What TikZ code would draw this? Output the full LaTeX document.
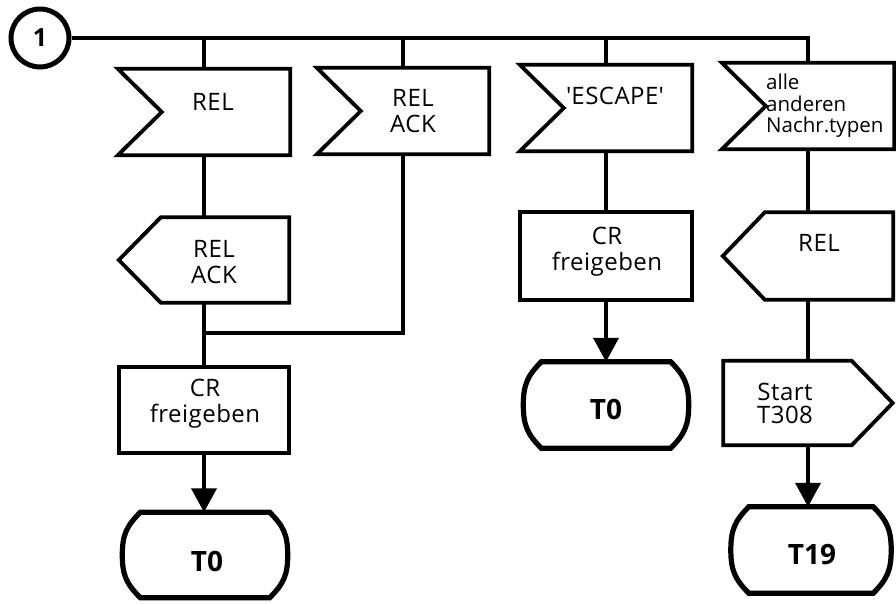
\documentclass[tikz,border=0pt]{standalone}
\usepackage{fontspec}
\setmainfont{Open Sans}
\newfontfamily\widefont[LetterSpace=2]{Open Sans}
\usetikzlibrary{arrows.meta,calc}
\newcommand\drawinput[1]{\draw[ln] (#1.north west) -- ($(#1.west)+(44,0)$) -- (#1.south west) -- (#1.south east) -- (#1.north east) -- cycle;}
\newcommand\drawoutput[1]{\draw[ln] (#1.west) -- ($(#1.north west)+(42,0)$) -- (#1.north east) -- (#1.south east) -- ($(#1.south west)+(42,0)$) -- cycle;}
\newcommand\drawstart[1]{\draw[ln] (#1.north west) -- ($(#1.north east)+(-41,0)$) -- (#1.east) -- ($(#1.south east)+(-41,0)$) -- (#1.south west) -- cycle;}
\newcommand\drawterm[1]{\draw[termline] ($(#1.north west)+(18,0)$) -- ($(#1.north east)+(-18,0)$)
   .. controls ($(#1.north east)+(-4,14)$) and ($(#1.east)+(0,-20)$) .. (#1.east)
   .. controls ($(#1.east)+(0,20)$) and ($(#1.south east)+(-4,-14)$) .. ($(#1.south east)+(-18,0)$)
   -- ($(#1.south west)+(18,0)$)
   .. controls ($(#1.south west)+(4,-14)$) and ($(#1.west)+(0,20)$) .. (#1.west)
   .. controls ($(#1.west)+(0,-20)$) and ($(#1.north west)+(4,14)$) .. cycle;}
\begin{document}
\begin{tikzpicture}[x=1pt,y=-1pt,line join=miter]
\tikzset{
  frame/.style={rectangle,inner sep=0,minimum width=172pt,minimum height=86pt},
  ln/.style={line width=3.8pt},
  termline/.style={line width=5.2pt},
  lbl/.style={font=\widefont\fontsize{24}{26}\selectfont,align=center,inner sep=0},
  tlbl/.style={font=\bfseries\fontsize{28}{28}\selectfont,inner sep=0},
  arr/.style={ln,-{Triangle[length=24pt,width=25pt]}}
}
\useasboundingbox (0,0) rectangle (896,603);
\fill[white] (0,0) rectangle (896,603);

% connector circle
\node[circle,draw,line width=5pt,minimum size=58pt,inner sep=0,font=\bfseries\fontsize{25}{25}\selectfont] (c1) at (40,38) {1};

% row 1: inputs
\node[frame] (in1) at (204,112) {};
\node[frame] (in2) at (403,111) {};
\node[frame] (in3) at (606,108) {};
\node[frame] (in4) at (808,106) {};
\drawinput{in1}\drawinput{in2}\drawinput{in3}\drawinput{in4}
\node[lbl] (in1t) at ($(in1)+(9,-10)$) {REL};
\node[lbl] (in2t) at ($(in2)+(10,0)$) {REL\\ACK};
\node[lbl] (in3t) at ($(in3)+(9,-12)$) {\textquotesingle ESCAPE\textquotesingle};
\node[font=\fontsize{20.5}{21.5}\selectfont,align=left,inner sep=0,anchor=west] (in4t) at (766,106) {alle\\anderen\\Nachr.typen};

% row 2
\node[frame,minimum width=170pt,minimum height=85pt] (out1) at (204,260) {};
\drawoutput{out1}
\node[lbl] (out1t) at ($(out1)+(10,2)$) {REL\\ACK};
\node[frame,minimum height=87pt] (cr3) at (606,256) {};
\draw[ln] (cr3.north west) rectangle (cr3.south east);
\node[lbl] (cr3t) at ($(cr3)+(1,-4)$) {CR\\freigeben};
\node[frame,minimum width=170pt,minimum height=87pt] (out4) at (808,256) {};
\drawoutput{out4}
\node[lbl] (out4t) at ($(out4)+(11,-13)$) {REL};

% row 3
\node[frame,minimum width=170pt,minimum height=85pt] (cr1) at (204,410) {};
\draw[ln] (cr1.north west) rectangle (cr1.south east);
\node[lbl] (cr1t) at ($(cr1)+(1,-6)$) {CR\\freigeben};
\node[frame,minimum width=165pt,minimum height=86pt] (t3) at (606,405) {};
\drawterm{t3}
\node[tlbl] (t3t) at ($(t3)+(0,4)$) {T0};
\node[frame,minimum width=169pt,minimum height=84pt] (st) at (808,403) {};
\drawstart{st}
\node[lbl,font=\widefont\fontsize{24}{23}\selectfont] (stt) at ($(st)+(-23,0)$) {Start\\T308};

% row 4
\node[frame,minimum width=165pt,minimum height=85pt] (t1) at (205,555) {};
\drawterm{t1}
\node[tlbl] (t1t) at ($(t1)+(2,6)$) {T0};
\node[frame,minimum width=160pt,minimum height=86pt] (t4) at (811,550) {};
\drawterm{t4}
\node[tlbl] (t4t) at ($(t4)+(1,5)$) {T19};

% connectors
\coordinate (tr) at (808,38);
\draw[ln] (c1.east) -- (tr) -- (in4.north);
\draw[ln] (in1.north |- c1.east) -- (in1.north);
\draw[ln] (in2.north |- c1.east) -- (in2.north);
\draw[ln] (in3.north |- c1.east) -- (in3.north);
\draw[ln] (in1.south) -- (out1.north);
\draw[ln] (out1.south) -- (cr1.north);
\coordinate (j1) at (204,333);
\draw[ln] (in2.south) |- (j1);
\draw[arr] (cr1.south) -- (t1.north -| cr1.south);
\draw[ln] (in3.south) -- (cr3.north);
\draw[arr] (cr3.south) -- (t3.north);
\draw[ln] (in4.south) -- (out4.north);
\draw[ln] (out4.south) -- (st.north);
\draw[arr] (st.south) -- (st.south |- t4.north);
\end{tikzpicture}
\end{document}
